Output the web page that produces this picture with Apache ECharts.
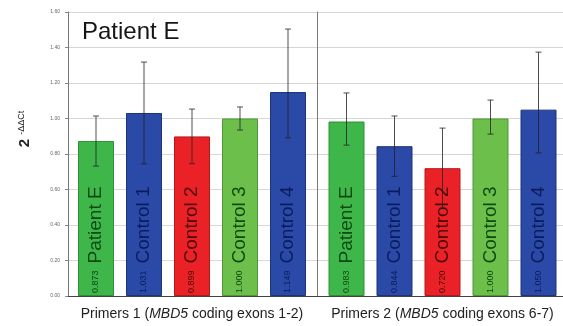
<!DOCTYPE html>
<html><head><meta charset="utf-8">
<script src="https://cdn.jsdelivr.net/npm/echarts@6/dist/echarts.min.js"></script>
<style>html,body{margin:0;padding:0;background:#fff}#c{width:563px;height:326px}</style>
</head><body><div id="c"></div>
<script>
const categories = ['Patient E', 'Control 1', 'Control 2', 'Control 3', 'Control 4'];
const primers1Values = [0.873, 1.031, 0.899, 1.000, 1.149];
const primers1ErrLow = [0.732, 0.744, 0.745, 0.935, 0.890];
const primers1ErrHigh = [1.014, 1.318, 1.053, 1.065, 1.504];
const primers2Values = [0.983, 0.844, 0.720, 1.000, 1.050];
const primers2ErrLow = [0.850, 0.674, 0.494, 0.912, 0.806];
const primers2ErrHigh = [1.144, 1.014, 0.946, 1.104, 1.374];
const yTicks = [0.00, 0.20, 0.40, 0.60, 0.80, 1.00, 1.20, 1.40, 1.60];
const groupLabels = [
  ['Primers 1 (', 'MBD5', ' coding exons 1-2)'],
  ['Primers 2 (', 'MBD5', ' coding exons 6-7)']
];
const titleText = 'Patient E';
const yNameParts = ['2', '-ΔΔCt'];

const FONT = 'Liberation Sans, Arial, Helvetica, sans-serif';
const barColors = ['#3fb64a', '#2b49a6', '#ea2126', '#6cbf4b', '#2b49a6'];
const borderColors = ['#2e8f37', '#1d337a', '#b3181b', '#4f9636', '#1d337a'];
const labelColors = ['#0c4a12', '#0b1c5e', '#4d0808', '#0d4a0f', '#0b1c5e'];

const yMin = yTicks[0], yMax = yTicks[yTicks.length - 1], yInt = yTicks[1] - yTicks[0];

function barData(vals) {
  return vals.map((v, i) => ({
    value: v,
    itemStyle: { color: barColors[i], borderColor: borderColors[i], borderWidth: 1 },
    label: { color: labelColors[i] }
  }));
}
function errData(lo, hi) {
  return categories.map((c, i) => [c, lo[i], hi[i]]);
}
function renderErr(params, api) {
  const x = api.value(0);
  const lo = api.coord([x, api.value(1)]);
  const hi = api.coord([x, api.value(2)]);
  const w = 3;
  const style = { stroke: 'rgba(35,35,35,0.8)', lineWidth: 1 };
  return { type: 'group', children: [
    { type: 'line', shape: { x1: lo[0], y1: lo[1], x2: hi[0], y2: hi[1] }, style },
    { type: 'line', shape: { x1: hi[0] - w, y1: hi[1], x2: hi[0] + w, y2: hi[1] }, style },
    { type: 'line', shape: { x1: lo[0] - w, y1: lo[1], x2: lo[0] + w, y2: lo[1] }, style }
  ]};
}
const barLabel = {
  show: true,
  position: 'insideBottom',
  rotate: 90,
  align: 'left',
  verticalAlign: 'middle',
  distance: 3,
  fontFamily: FONT,
  formatter: p => '{v|' + p.value.toFixed(3) + '}{n|' + p.name + '}',
  rich: {
    v: { fontSize: 9, fontFamily: FONT, padding: [0, 7, 0, 0] },
    n: { fontSize: 19, fontFamily: FONT }
  }
};
function xName(parts) {
  return '{r|' + parts[0] + '}{i|' + parts[1] + '}{r|' + parts[2] + '}';
}
const xNameStyle = {
  rich: {
    r: { fontSize: 14, fontFamily: FONT, color: '#222' },
    i: { fontSize: 14, fontFamily: FONT, color: '#222', fontStyle: 'italic' }
  }
};

const chart = echarts.init(document.getElementById('c'), null, { renderer: 'canvas' });
chart.setOption({
  animation: false,
  backgroundColor: '#fff',
  title: {
    text: titleText, left: 77, top: 15,
    textStyle: { fontSize: 24, fontWeight: 'normal', color: '#151515', fontFamily: FONT }
  },
  grid: [
    { left: 72, width: 240, top: 12, bottom: 30 },
    { left: 322.5, width: 240, top: 12, bottom: 30 },
    { left: 68, right: 0, top: 12, bottom: 30 }
  ],
  xAxis: [
    { gridIndex: 0, type: 'category', data: categories,
      axisLine: { show: false }, axisTick: { show: false }, axisLabel: { show: false },
      name: xName(groupLabels[0]), nameLocation: 'middle', nameGap: 11, nameTextStyle: xNameStyle },
    { gridIndex: 1, type: 'category', data: categories,
      axisLine: { show: false }, axisTick: { show: false }, axisLabel: { show: false },
      name: xName(groupLabels[1]), nameLocation: 'middle', nameGap: 11, nameTextStyle: xNameStyle },
    { gridIndex: 2, type: 'value', min: 0, max: 1,
      axisLine: { show: true, onZero: false, lineStyle: { color: '#444', width: 1 } },
      axisTick: { show: false }, axisLabel: { show: false }, splitLine: { show: false } }
  ],
  yAxis: [
    { gridIndex: 0, type: 'value', min: yMin, max: yMax, interval: yInt, show: false },
    { gridIndex: 1, type: 'value', min: yMin, max: yMax, interval: yInt, offset: 5.5,
      axisLine: { show: true, lineStyle: { color: '#7a7a7a', width: 1 } },
      axisTick: { show: false }, axisLabel: { show: false }, splitLine: { show: false } },
    { gridIndex: 2, type: 'value', min: yMin, max: yMax, interval: yInt,
      axisLine: { show: true, lineStyle: { color: '#777', width: 1 } },
      axisTick: { show: true, length: 3, lineStyle: { color: '#888' } },
      axisLabel: { fontSize: 5, color: '#666', margin: 8, fontFamily: FONT, formatter: v => v.toFixed(2) },
      splitLine: { show: true, lineStyle: { color: '#d6d6d6', width: 1 } },
      name: '{a|' + yNameParts[0] + '}{b|' + yNameParts[1] + '}',
      nameLocation: 'middle', nameRotate: 90, nameGap: 36,
      nameTextStyle: {
        padding: [0, 0, 0, 50],
        rich: {
          a: { fontSize: 15, fontWeight: 'bold', color: '#222', fontFamily: FONT, padding: [0, 4, 0, 0] },
          b: { fontSize: 9, color: '#222', fontFamily: FONT, verticalAlign: 'top' }
        }
      } }
  ],
  series: [
    { type: 'bar', xAxisIndex: 0, yAxisIndex: 0, barWidth: 36, data: barData(primers1Values), label: barLabel, z: 2 },
    { type: 'bar', xAxisIndex: 1, yAxisIndex: 1, barWidth: 36, data: barData(primers2Values), label: barLabel, z: 2 },
    { type: 'custom', xAxisIndex: 0, yAxisIndex: 0, renderItem: renderErr, data: errData(primers1ErrLow, primers1ErrHigh), z: 3, encode: { x: 0, y: [1, 2] } },
    { type: 'custom', xAxisIndex: 1, yAxisIndex: 1, renderItem: renderErr, data: errData(primers2ErrLow, primers2ErrHigh), z: 3, encode: { x: 0, y: [1, 2] } }
  ]
});
</script></body></html>
